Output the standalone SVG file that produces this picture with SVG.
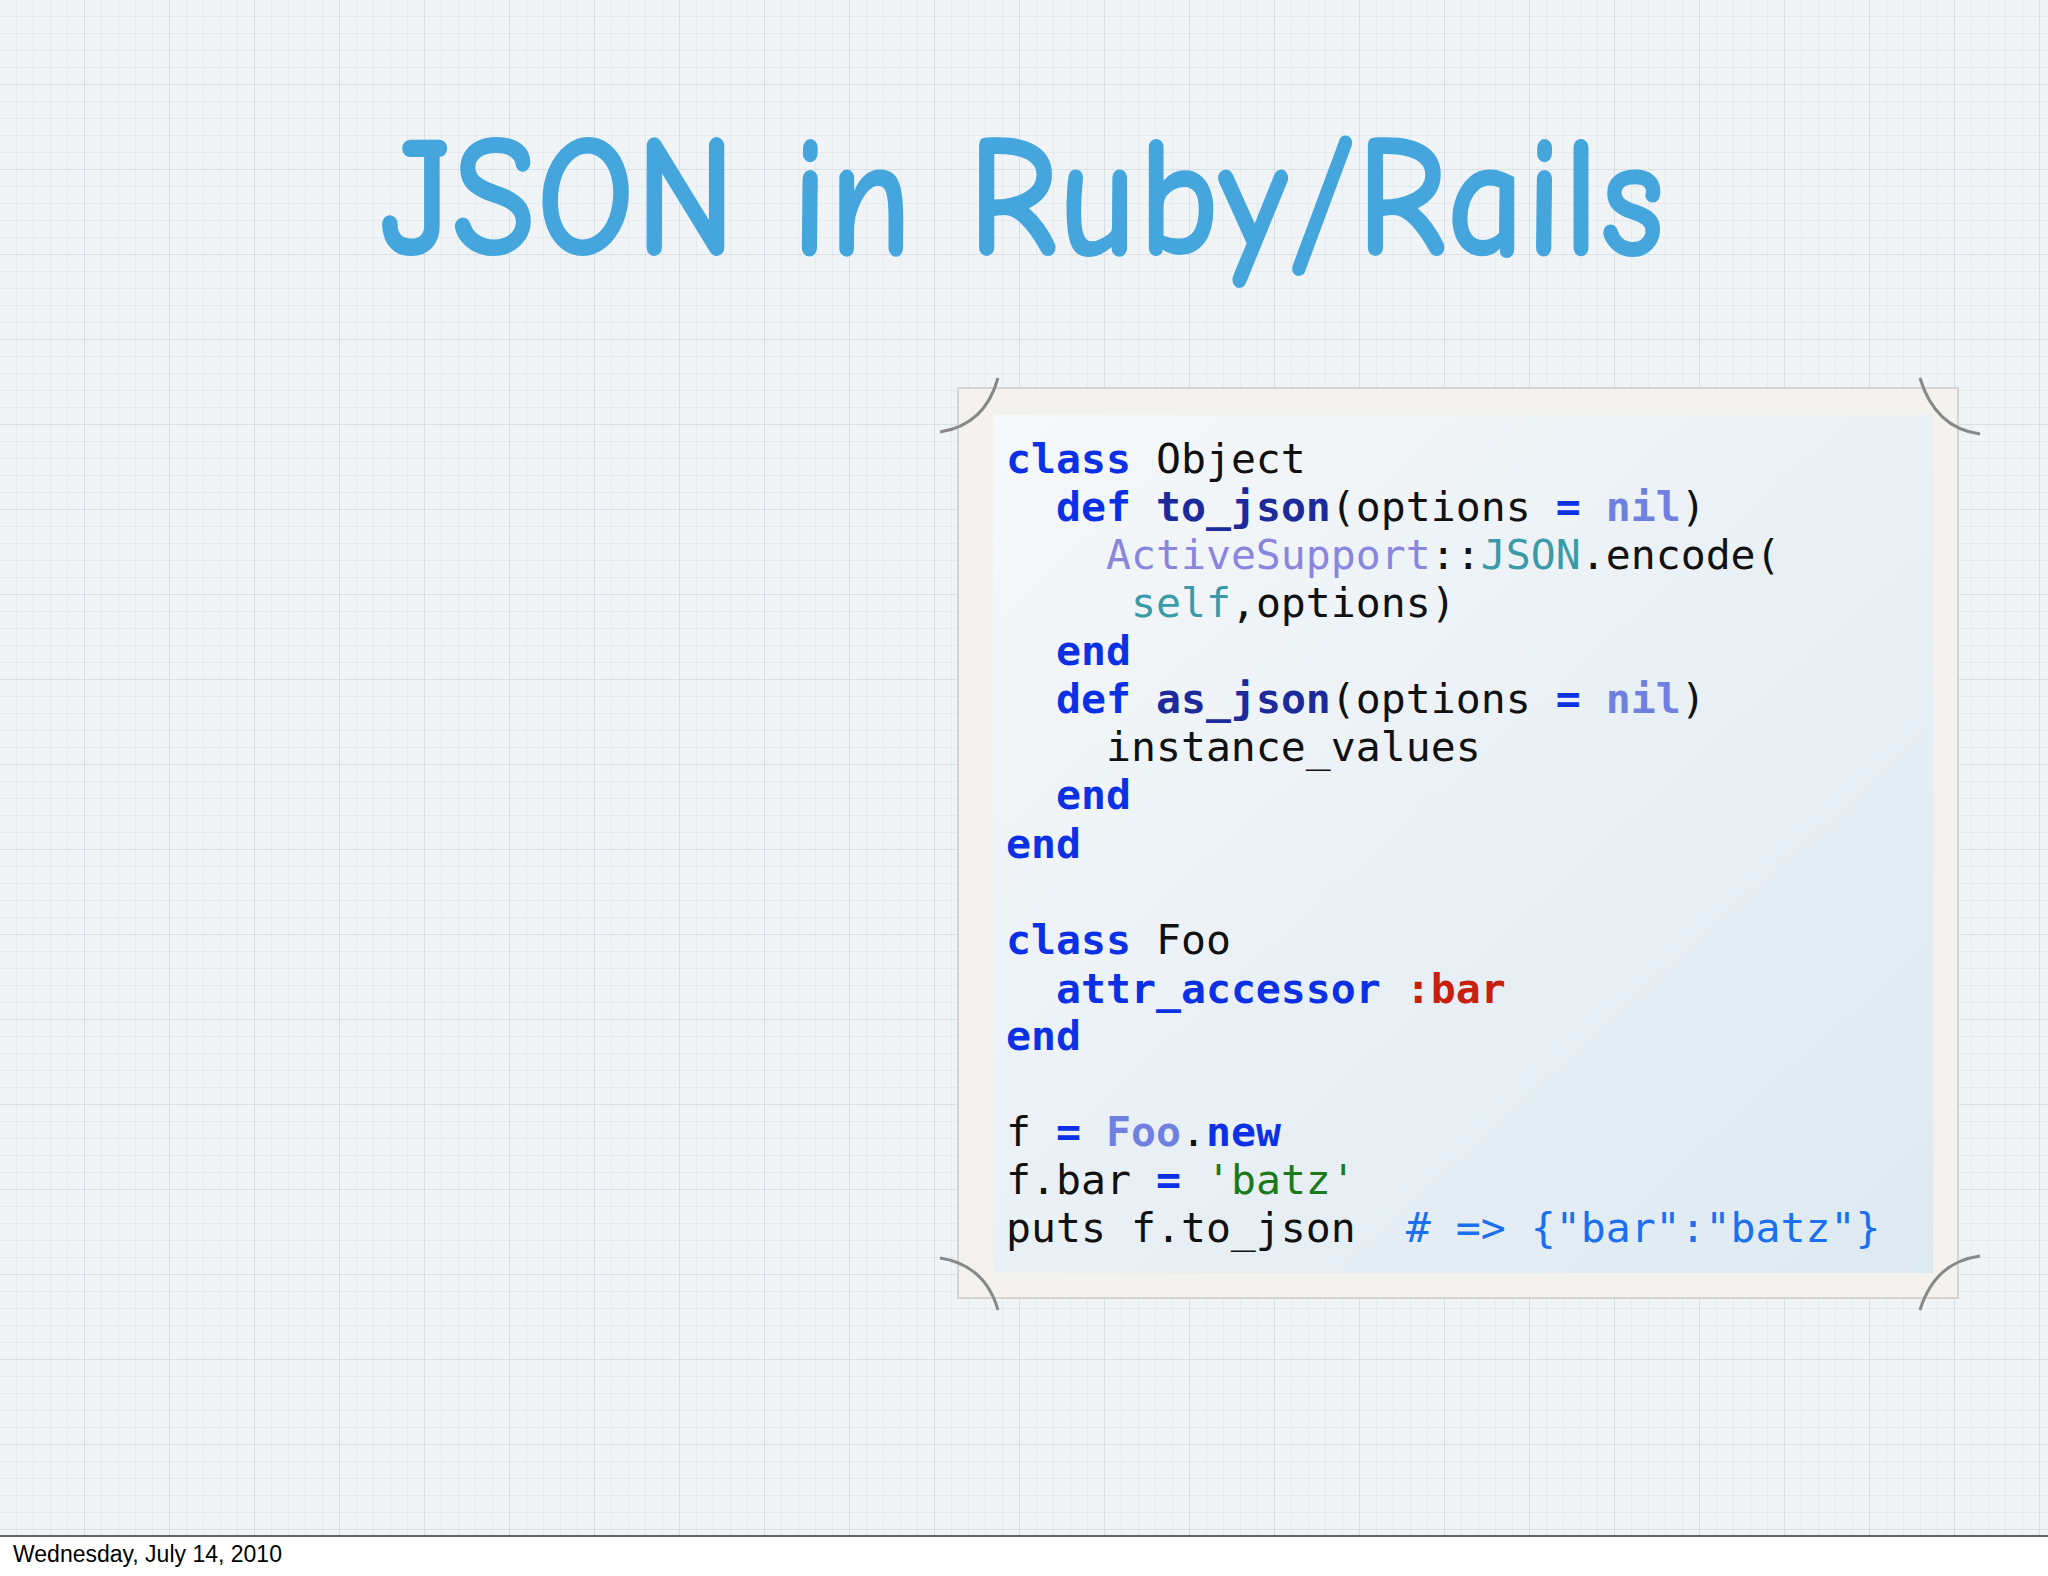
<svg xmlns="http://www.w3.org/2000/svg" width="2048" height="1576" viewBox="0 0 2048 1576">
<defs>
<pattern id="g" width="17" height="17" patternUnits="userSpaceOnUse">
<path d="M17 0V17H0" fill="none" stroke="#d9e1e6" stroke-width="1"/>
</pattern>
<pattern id="G" width="85" height="85" patternUnits="userSpaceOnUse">
<path d="M85 0V85H0" fill="none" stroke="#cbd5dc" stroke-width="1.2"/>
</pattern>
<linearGradient id="p" x1="0" y1="0" x2="1" y2="1">
<stop offset="0" stop-color="#f6f8fa"/><stop offset="1" stop-color="#dde9f1"/>
</linearGradient>
<style>
.c text{font-family:"DejaVu Sans Mono",monospace;font-size:41.5px;fill:#111;white-space:pre}
.k{fill:#0b30e6;font-weight:bold}
.m{fill:#1c2a9c;font-weight:bold}
.n{fill:#7080e0;font-weight:bold}
.a{fill:#8a86e0}
.t{fill:#3a9aa8}
.r{fill:#c8200f;font-weight:bold}
.s{fill:#1a7a1a}
.cm{fill:#1a70f0}
</style>
</defs>
<rect width="2048" height="1576" fill="#f1f4f6"/>
<rect width="2048" height="1536" fill="url(#g)"/>
<rect width="2048" height="1536" fill="url(#G)"/>
<line x1="0" y1="1536" x2="2048" y2="1536" stroke="#333" stroke-width="1.5"/>
<rect x="0" y="1537" width="2048" height="39" fill="#fff"/>
<text x="13" y="1562" font-family="Liberation Sans, sans-serif" font-size="23" fill="#000">Wednesday, July 14, 2010</text>
<g id="title">
<text x="379" y="255" font-family="Comic Neue, Liberation Sans, sans-serif" font-weight="bold" font-size="175" fill="#44a6dc" textLength="1286" lengthAdjust="spacingAndGlyphs">JSON in Ruby/Rails</text>
</g>
<g id="codebox">
<rect x="958" y="388" width="1000" height="910" fill="#f3f2ef" stroke="#d6d4d0" stroke-width="2"/>
<rect x="993" y="415" width="940" height="858" fill="url(#p)"/>
<path d="M940 432 Q985 425 998 378" fill="none" stroke="#888" stroke-width="3"/>
<path d="M1920 378 Q1935 428 1980 434" fill="none" stroke="#888" stroke-width="3"/>
<path d="M940 1258 Q985 1265 998 1310" fill="none" stroke="#888" stroke-width="3"/>
<path d="M1920 1310 Q1935 1262 1980 1256" fill="none" stroke="#888" stroke-width="3"/>
<g class="c">
<text x="1006" y="473"><tspan class="k">class</tspan> Object</text>
<text x="1006" y="521">  <tspan class="k">def</tspan> <tspan class="m">to_json</tspan>(options <tspan class="k">=</tspan> <tspan class="n">nil</tspan>)</text>
<text x="1006" y="569">    <tspan class="a">ActiveSupport</tspan>::<tspan class="t">JSON</tspan>.encode(</text>
<text x="1006" y="617">     <tspan class="t">self</tspan>,options)</text>
<text x="1006" y="665">  <tspan class="k">end</tspan></text>
<text x="1006" y="713">  <tspan class="k">def</tspan> <tspan class="m">as_json</tspan>(options <tspan class="k">=</tspan> <tspan class="n">nil</tspan>)</text>
<text x="1006" y="761">    instance_values</text>
<text x="1006" y="809">  <tspan class="k">end</tspan></text>
<text x="1006" y="858"><tspan class="k">end</tspan></text>
<text x="1006" y="954"><tspan class="k">class</tspan> Foo</text>
<text x="1006" y="1003">  <tspan class="k">attr_accessor</tspan> <tspan class="r">:bar</tspan></text>
<text x="1006" y="1050"><tspan class="k">end</tspan></text>
<text x="1006" y="1146">f <tspan class="k">=</tspan> <tspan class="n">Foo</tspan>.<tspan class="k">new</tspan></text>
<text x="1006" y="1194">f.bar <tspan class="k">=</tspan> <tspan class="s">'batz'</tspan></text>
<text x="1006" y="1242">puts f.to_json  <tspan class="cm"># =&gt; {"bar":"batz"}</tspan></text>
</g>
</g>
</svg>
